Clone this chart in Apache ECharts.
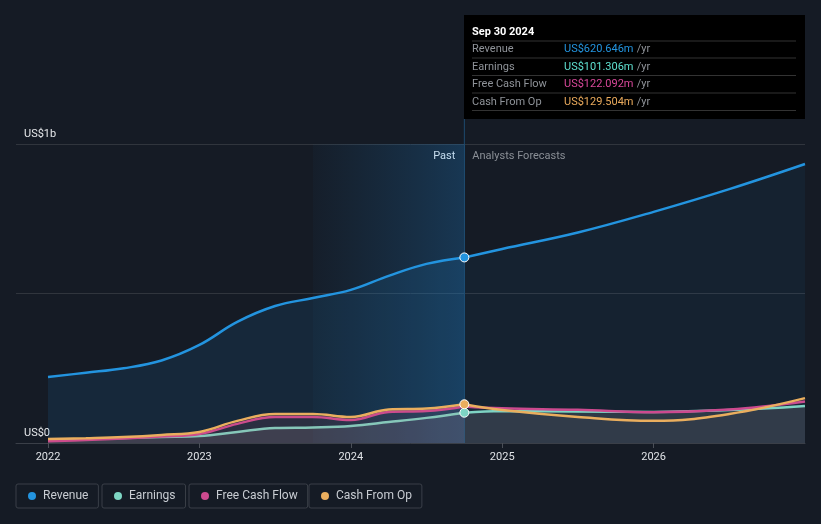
<!DOCTYPE html>
<html>
<head>
<meta charset="utf-8">
<script src="https://cdn.jsdelivr.net/npm/echarts@6/dist/echarts.min.js"></script>
<style>
html,body{margin:0;padding:0;background:#151b25;}
#c{width:821px;height:524px;}
</style>
</head>
<body>
<div id="c"></div>
<script>
// ---- data (values in US$ millions, x in decimal years) ----
var pastX = [2022.0, 2022.25, 2022.5, 2022.75, 2023.0, 2023.25, 2023.5, 2023.75, 2024.0, 2024.25, 2024.5, 2024.75];
var revenuePast = [221, 235, 250, 276, 328, 405, 458, 485, 512, 559, 599, 620.646];
var earningsPast = [10, 13, 17, 20, 23, 37, 50, 52, 57, 70, 84, 101.306];
var fcfPast = [6, 10, 15, 22, 30, 64, 87, 87, 77, 104, 107, 122.092];
var cfoPast = [13, 16, 20, 27, 37, 74, 97, 97, 87, 112, 115, 129.504];

var forecastX = [2024.75, 2025.0, 2025.5, 2026.0, 2026.5, 2027.0];
var revenueForecast = [620.646, 649, 704, 773, 849, 933];
var earningsForecast = [101.306, 107, 105, 104, 110, 124];
var fcfForecast = [122.092, 116, 111, 103, 112, 139];
var cfoForecast = [129.504, 110, 87, 74, 97, 150];

var yearTicks = [2022, 2023, 2024, 2025, 2026];
var tipDate = 'Sep 30 2024';
var tipRows = [
  ['Revenue', 'US$620.646m', '#2394df'],
  ['Earnings', 'US$101.306m', '#5fe0d0'],
  ['Free Cash Flow', 'US$122.092m', '#d8489a'],
  ['Cash From Op', 'US$129.504m', '#eaaa5c']
];

var colors = {Revenue:'#2394df', Earnings:'#7ed6c4', 'Free Cash Flow':'#cc4a8f', 'Cash From Op':'#eaae5e'};
var nowX = 2024.75;

function pairs(xs, ys){ return xs.map(function(x,i){ return [x, ys[i]]; }); }
function withStartMarker(xs, ys, color){
  return xs.map(function(x,i){
    if (x === nowX) return {value:[x, ys[i]], symbol:'circle', symbolSize:9,
      itemStyle:{color:color, borderColor:'#ffffff', borderWidth:1}};
    return [x, ys[i]];
  });
}

var chart = echarts.init(document.getElementById('c'));

function lineSeries(name, data, color, area, z){
  return {
    name:name, type:'line', smooth:0.4, symbol:'none', showSymbol:true,
    data:data, lineStyle:{color:color, width:2.5}, itemStyle:{color:color},
    areaStyle: area, z:z, silent:true, animation:false
  };
}

var xMin = 2022 - 32/151.4;

var series = [
  Object.assign(lineSeries('Revenue', pairs(pastX, revenuePast), colors.Revenue,
    {color:'rgba(35,148,223,0.17)'}, 3), {
      markArea:{silent:true, data:[
        [{xAxis:2023.75, itemStyle:{color:new echarts.graphic.LinearGradient(0,0,1,0,[
            {offset:0,color:'rgba(30,110,170,0.04)'},{offset:1,color:'rgba(30,120,190,0.3)'}])}},
         {xAxis:nowX}]
      ]},
      markLine:{silent:true, symbol:'none', label:{show:false},
        lineStyle:{color:'#1d4a6e', width:1, type:'solid'}, data:[{xAxis:nowX}]}
  }),
  lineSeries('Earnings', pairs(pastX, earningsPast), colors.Earnings, {color:'rgba(150,150,160,0.25)'}, 4),
  lineSeries('Free Cash Flow', pairs(pastX, fcfPast), colors['Free Cash Flow'], {color:'rgba(190,80,130,0.12)'}, 5),
  lineSeries('Cash From Op', pairs(pastX, cfoPast), colors['Cash From Op'], {color:'rgba(200,150,100,0.06)'}, 6),
  lineSeries('Revenue', withStartMarker(forecastX, revenueForecast, colors.Revenue), colors.Revenue, {color:'rgba(35,148,223,0.09)'}, 7),
  lineSeries('Earnings', withStartMarker(forecastX, earningsForecast, colors.Earnings), colors.Earnings, {color:'rgba(150,150,160,0.25)'}, 8),
  lineSeries('Free Cash Flow', pairs(forecastX, fcfForecast), colors['Free Cash Flow'], {color:'rgba(150,150,160,0.05)'}, 8),
  lineSeries('Cash From Op', withStartMarker(forecastX, cfoForecast, colors['Cash From Op']), colors['Cash From Op'], {color:'rgba(150,150,160,0.05)'}, 9)
];

var legendNames = ['Revenue','Earnings','Free Cash Flow','Cash From Op'];
var legendLefts = [16, 102, 189, 309];
var legends = legendNames.map(function(n,i){
  return {
    data:[n], left:legendLefts[i], top:484, icon:'circle', itemWidth:8, itemHeight:8,
    selectedMode:false, borderColor:'#3a3f48', borderWidth:1, borderRadius:2,
    padding:[6,10,6,12], itemGap:0, textStyle:{color:'#c8ccd2', fontSize:12, padding:[0,0,0,2]}
  };
});

// tooltip-like info box
var box = {type:'group', left:464, top:15, children:[]};
box.children.push({type:'rect', shape:{x:0,y:0,width:341,height:104}, style:{fill:'#000000'}});
box.children.push({type:'text', x:8, y:17, style:{text:tipDate, fill:'#ffffff', font:'bold 11px Roboto', verticalAlign:'middle', textVerticalAlign:'middle'}});
box.children.push({type:'line', shape:{x1:8,y1:26,x2:332,y2:26}, style:{stroke:'#333333', lineWidth:1}});
tipRows.forEach(function(r,i){
  var y = 34.5 + i*17.5;
  box.children.push({type:'text', x:8, y:y, style:{text:r[0], fill:'#8f9399', font:'11px Roboto', verticalAlign:'middle', textVerticalAlign:'middle'}});
  box.children.push({type:'text', x:100, y:y, style:{
    text:'{v|'+r[1]+'} {u|/yr}', verticalAlign:'middle', textVerticalAlign:'middle',
    rich:{v:{fill:r[2], font:'11px Roboto'}, u:{fill:'#8f9399', font:'11px Roboto'}}}});
  box.children.push({type:'line', shape:{x1:8,y1:y+8.5,x2:332,y2:y+8.5}, style:{stroke:'#333333', lineWidth:1}});
});

chart.setOption({
  backgroundColor:'#151b25',
  animation:false,
  textStyle:{fontFamily:'Roboto'},
  grid:{left:16, right:16, top:144, bottom:81},
  xAxis:{
    type:'value', min:xMin, max:2027,
    axisLine:{show:true, lineStyle:{color:'#3a3f48', width:1}},
    axisTick:{show:true, customValues:yearTicks, length:5, lineStyle:{color:'#4a4f58'}},
    axisLabel:{customValues:yearTicks, color:'#dfe2e6', fontSize:11, margin:9,
      formatter:function(v){ return String(Math.round(v)); }},
    splitLine:{show:false}
  },
  yAxis:{
    type:'value', min:0, max:1000, interval:500,
    axisLine:{show:false}, axisTick:{show:false},
    axisLabel:{inside:true, margin:8, verticalAlign:'bottom', color:'#e6e8eb', fontSize:11, padding:[0,0,4,0],
      formatter:function(v){ return v===0?'US$0':(v===1000?'US$1b':''); }},
    splitLine:{show:true, lineStyle:{color:'#30353d', width:1}}
  },
  legend:legends,
  series:series,
  graphic:[box]
});

// now-line extension and Past / Forecast labels, positioned from the axis scale
var p = chart.convertToPixel({gridIndex:0}, [nowX, 1000]);
chart.setOption({graphic:[
  box,
  {type:'line', shape:{x1:p[0], y1:119, x2:p[0], y2:p[1]}, style:{stroke:'#1d4a6e', lineWidth:1}},
  {type:'text', x:p[0]-9, y:p[1]+12.5, style:{text:'Past', fill:'#ffffff', font:'11px Roboto', align:'right', verticalAlign:'middle', textAlign:'right', textVerticalAlign:'middle'}},
  {type:'text', x:p[0]+8, y:p[1]+12.5, style:{text:'Analysts Forecasts', fill:'#8a8f96', font:'11px Roboto', align:'left', verticalAlign:'middle', textVerticalAlign:'middle'}}
]});
</script>
</body>
</html>
